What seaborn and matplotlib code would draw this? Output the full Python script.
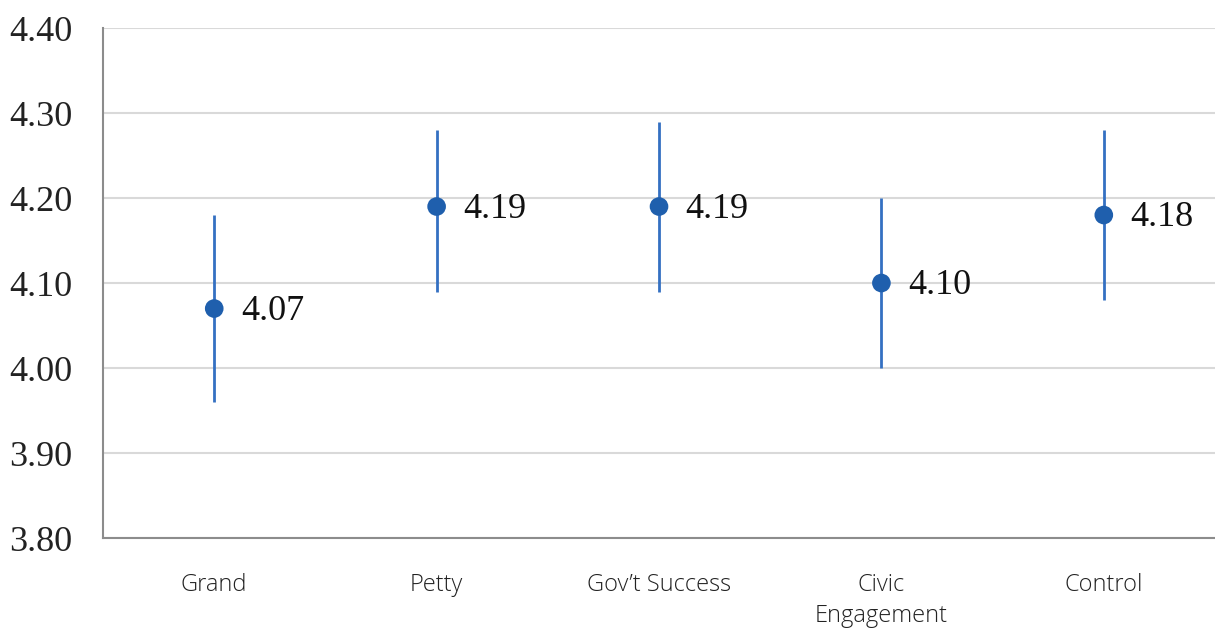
import matplotlib
matplotlib.use("Agg")
import matplotlib.pyplot as plt
import seaborn as sns
import pandas as pd

# Mean ratings with 95% intervals for each condition
conditions = ["Grand", "Petty", "Gov\u2019t Success", "Civic\nEngagement", "Control"]
means = [4.07, 4.19, 4.19, 4.10, 4.18]
lower = [3.96, 4.09, 4.09, 4.00, 4.08]
upper = [4.18, 4.28, 4.29, 4.20, 4.28]
y_ticks = [3.80, 3.90, 4.00, 4.10, 4.20, 4.30, 4.40]

df = pd.DataFrame({"condition": conditions, "mean": means, "lo": lower, "hi": upper})

sns.set_theme(style="white")
fig = plt.figure(figsize=(12.15, 6.3), dpi=100)
ax = fig.add_axes([0.0848, 0.146, 0.9152, 0.8095])

blue = "#1F5FAD"
line_blue = "#3470C2"

# vertical interval lines
ax.vlines(range(len(df)), df["lo"], df["hi"], color=line_blue, linewidth=2, zorder=2)
sns.scatterplot(data=df, x="condition", y="mean", ax=ax, s=180, color=blue,
                edgecolor="none", zorder=3, legend=False)

for i, m in enumerate(df["mean"]):
    ax.text(i + 0.12, m - 0.003, f"{m:.2f}", ha="left", va="center",
            fontsize=26, family="Liberation Serif", color="#111111")

ax.set_xlim(-0.5, len(df) - 0.5)
ax.set_ylim(3.80, 4.40)
ax.set_yticks(y_ticks)
ax.set_yticklabels([f"{v:.2f}" for v in y_ticks], family="Liberation Serif",
                   fontsize=26, color="#222222")
ax.set_xticks(range(len(df)))
ax.set_xticklabels(df["condition"], family="Open Sans", fontsize=17, fontweight="light",
                   color="#222222", va="top", linespacing=1.4)
ax.tick_params(axis="y", length=0, pad=22)
ax.tick_params(axis="x", length=0, pad=25)
ax.set_xlabel("")
ax.set_ylabel("")

ax.yaxis.grid(True, color="#D9D9D9", linewidth=1.5)
ax.set_axisbelow(True)
for side in ["top", "right"]:
    ax.spines[side].set_visible(False)
for side in ["left", "bottom"]:
    ax.spines[side].set_color("#8C8C8C")
    ax.spines[side].set_linewidth(1.5)

fig.savefig("out.png", dpi=100, facecolor="white")
